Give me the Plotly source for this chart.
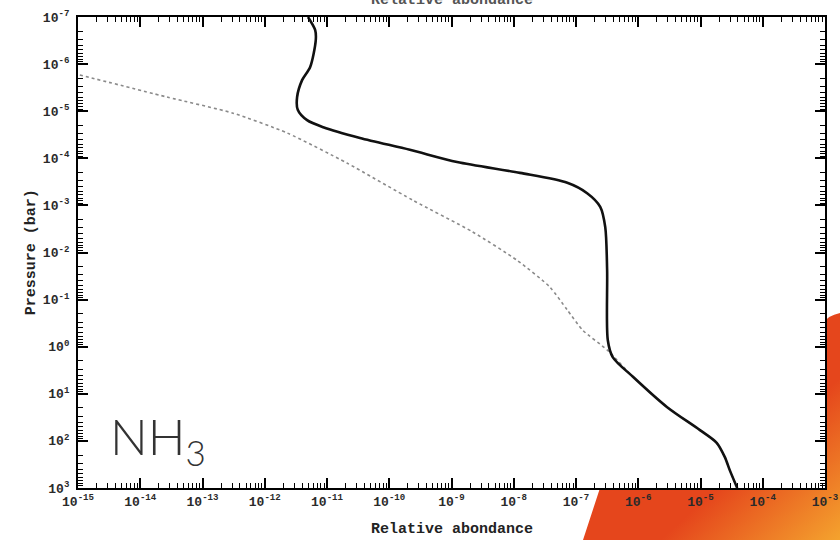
import base64
import plotly.graph_objects as go

# NH3 vertical profile (relative abundance vs pressure in bar)
nh3_abundance = [4.95e-12, 6.46e-12, 6.6e-12, 5.37e-12, 3.98e-12, 3.31e-12, 3.39e-12,
                 4.79e-12, 8.7e-12, 3.39e-11, 2.14e-10, 1.23e-9, 1.26e-8, 7.24e-8,
                 1.51e-7, 2.45e-7, 2.95e-7, 3.16e-7, 3.24e-7, 3.89e-7, 8.3e-7,
                 2.88e-6, 9.8e-6, 1.82e-5, 2.45e-5, 2.95e-5, 3.89e-5]
nh3_pressure = [1.0e-7, 1.9e-7, 3.1e-7, 1.15e-6, 2.19e-6, 5.0e-6, 9.3e-6,
                1.55e-5, 2.19e-5, 3.7e-5, 6.6e-5, 1.2e-4, 2.04e-4, 3.3e-4,
                5.5e-4, 1.07e-3, 2.9e-3, 2.3e-2, 0.72, 1.66, 4.4,
                19, 59, 110, 219, 417, 1000]

# reference profile (dotted)
ref_abundance = [1.07e-15, 2.69e-14, 3.09e-13, 2.29e-12, 2.09e-11, 2.4e-10, 2.14e-9,
                 1.12e-8, 3.8e-8, 7.24e-8, 1.29e-7, 3.16e-7, 8.3e-7, 2.88e-6,
                 9.8e-6, 1.82e-5, 2.45e-5, 2.95e-5, 3.89e-5]
ref_pressure = [1.7e-6, 5.0e-6, 1.1e-5, 2.9e-5, 1.26e-4, 7.8e-4, 3.6e-3,
                1.45e-2, 5.4e-2, 0.166, 0.45, 1.17, 4.4, 19,
                59, 110, 219, 417, 1000]

x_exponents = list(range(-15, -2))
y_exponents = list(range(-7, 4))

mono = "Liberation Mono"
tick_font = dict(family=mono, size=13, color="#2a2a2a", weight="bold")

fig = go.Figure()

fig.add_trace(go.Scatter(
    x=ref_abundance, y=ref_pressure, mode="lines",
    line=dict(color="#8a8a8a", width=1.6, dash="dot", shape="spline", smoothing=0.6),
    showlegend=False, hoverinfo="skip",
))
fig.add_trace(go.Scatter(
    x=nh3_abundance, y=nh3_pressure, mode="lines",
    line=dict(color="#111111", width=2.6, shape="spline", smoothing=0.8),
    showlegend=False,
))

axis_common = dict(
    type="log", automargin=False,
    showgrid=False, zeroline=False,
    showline=True, linecolor="black", linewidth=2, mirror="ticks",
    ticks="inside", ticklen=10, tickwidth=2, tickcolor="black",
    tickfont=tick_font,
    minor=dict(ticks="inside", ticklen=5, tickwidth=1.3, tickcolor="black",
               dtick="D1", showgrid=False),
)

fig.update_xaxes(
    **axis_common,
    range=[-15, -3],
    tickmode="array",
    tickvals=[10.0 ** e for e in x_exponents],
    ticktext=[f"10<sup>{e}</sup>" for e in x_exponents],
)
fig.update_yaxes(
    **axis_common,
    range=[3, -7],
    tickmode="array",
    tickvals=[10.0 ** e for e in y_exponents],
    ticktext=[f"10<sup>{e}</sup>" for e in y_exponents],
    ticklabelstandoff=4,
)

# orange slide decoration in the lower right corner, kept outside the plot frame
svg = (
    '<svg xmlns="http://www.w3.org/2000/svg" width="280" height="240" viewBox="0 0 280 240">'
    '<defs><linearGradient id="g" gradientUnits="userSpaceOnUse" x1="200" y1="150" x2="290" y2="250">'
    '<stop offset="0" stop-color="#e5461c"/><stop offset="1" stop-color="#f6ae30"/>'
    '</linearGradient></defs>'
    '<path d="M23 240 L40 188 L265 188 L265 22 Q267 16 280 13 L280 240 Z" fill="url(#g)"/>'
    '</svg>'
)
fig.add_layout_image(
    source="data:image/svg+xml;base64," + base64.b64encode(svg.encode()).decode(),
    xref="paper", yref="paper",
    x=(560 - 78) / 747, y=(488 - 300) / 471,
    sizex=280 / 747, sizey=240 / 471,
    xanchor="left", yanchor="top", sizing="stretch", layer="below",
)

# titles
title_font = dict(family=mono, size=15, color="#222", weight="bold")
fig.add_annotation(text="Relative abondance", xref="paper", yref="paper",
                   x=0.5, y=-0.089, showarrow=False, yanchor="middle",
                   font=title_font)
# top axis title, mostly cut off by the top edge of the picture
fig.add_annotation(text="Relative abondance", xref="paper", yref="paper",
                   x=0.5, y=1.012, showarrow=False, yanchor="bottom",
                   font=dict(family=mono, size=15, color="#555", weight="bold"))
fig.add_annotation(text="Pressure (bar)", xref="paper", yref="paper",
                   x=-0.076, y=0.5, showarrow=False, textangle=-90,
                   font=title_font)
fig.add_annotation(text="NH<sub>3</sub>", xref="paper", yref="paper",
                   x=0.04, y=0.102, showarrow=False, xanchor="left", yanchor="middle",
                   font=dict(family="Lato", size=50, color="#333", weight=300))

fig.update_layout(
    width=840, height=540,
    margin=dict(l=78, r=15, t=17, b=52),
    plot_bgcolor="white", paper_bgcolor="white",
    showlegend=False,
)

fig.write_html("out.html", config={"displayModeBar": False},
               post_script="document.body.style.margin='0';document.body.style.overflow='hidden';")
